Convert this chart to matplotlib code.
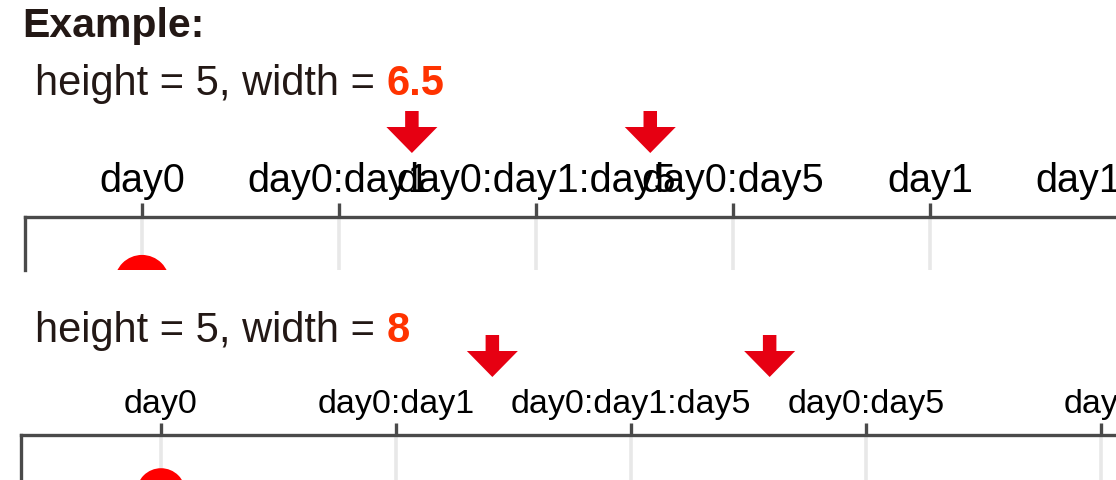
import matplotlib.pyplot as plt
from matplotlib import transforms as mtransforms

plt.rcParams["font.family"] = ["Liberation Sans", "DejaVu Sans"]

W, H = 1116, 480

categories = ["day0", "day0:day1", "day0:day1:day5", "day0:day5", "day1", "day1:day5"]
dot_categories = ["day0"]
dot_row = 1

panel_widths = ["6.5", "8"]
panel_height = "5"
arrow_x_top = [1.37, 2.58]
arrow_x_bottom = [1.41, 2.59]

TEXT_DARK = "#231815"
TEXT_HL = "#ff3300"
AXIS_COL = "#4a4a4a"
GRID_COL = "#e8e8e8"
DOT_COL = "#ff0000"
ARROW_COL = "#e60012"


def fx(px):
    return px / W


def fy(py):
    return 1 - py / H


def draw_panel(fig, left, top, bottom, step, first_tick, label_size,
               tick_len, dot_px, ylim_bottom, arrow_x, arrow_gap):
    n = len(categories)
    x_left = (left - first_tick) / step
    width_px = (n - 1 - 2 * x_left) * step
    ax = fig.add_axes([fx(left), fy(bottom), width_px / W, (bottom - top) / H])
    ax.set_xlim(x_left, n - 1 - x_left)
    ax.set_ylim(ylim_bottom, 0)

    ax.set_xticks(range(n))
    ax.set_xticklabels(categories)
    ax.xaxis.tick_top()
    ax.set_yticks([])
    ax.tick_params(axis="x", length=tick_len, width=2.4, color=AXIS_COL,
                   pad=2, labelsize=label_size, labelcolor="black")
    ax.grid(axis="x", color=GRID_COL, linewidth=2.6, zorder=0)
    ax.set_axisbelow(True)

    for side in ["right", "bottom"]:
        ax.spines[side].set_visible(False)
    for side in ["top", "left"]:
        ax.spines[side].set_color(AXIS_COL)
        ax.spines[side].set_linewidth(2.4)

    xs = [categories.index(c) for c in dot_categories]
    ax.scatter(xs, [dot_row] * len(xs), s=(dot_px * 72 / 100) ** 2,
               color=DOT_COL, edgecolor="none", zorder=3)

    # red arrows above the overlapping labels
    tip_tr = mtransforms.blended_transform_factory(ax.transData, ax.transAxes) + \
        mtransforms.ScaledTranslation(0, arrow_gap / 100, fig.dpi_scale_trans)
    for x in arrow_x:
        ax.annotate("", xy=(x, 1), xycoords=tip_tr,
                    xytext=(0, 42), textcoords="offset pixels",
                    annotation_clip=False,
                    arrowprops=dict(arrowstyle="simple,head_length=2.6,head_width=5.1,tail_width=1.35",
                                    mutation_scale=7.2, color=ARROW_COL,
                                    shrinkA=0, shrinkB=0, lw=0))
    return ax


def draw_title(fig, bg, x, baseline, value):
    t = fig.text(fx(x), fy(baseline), f"height = {panel_height}, width = ",
                 fontsize=30, color=TEXT_DARK, va="baseline", ha="left")
    bg.annotate(value, xy=(1, 0), xycoords=t, va="bottom", ha="left",
                fontsize=30, fontweight="bold", color=TEXT_HL)


fig = plt.figure(figsize=(W / 100, H / 100), dpi=100)
bg = fig.add_axes([0, 0, 1, 1])
bg.set_axis_off()

fig.text(fx(22), fy(37), "Example:", fontsize=29.5, fontweight="bold",
         color=TEXT_DARK, va="baseline", ha="left")

draw_title(fig, bg, 35, 95, panel_widths[0])
draw_panel(fig, left=25, top=217, bottom=270, step=197, first_tick=142,
           label_size=28.5, tick_len=10, dot_px=55, ylim_bottom=0.81,
           arrow_x=arrow_x_top, arrow_gap=64)

draw_title(fig, bg, 35, 342, panel_widths[1])
draw_panel(fig, left=21, top=435, bottom=480, step=235, first_tick=161,
           label_size=24.5, tick_len=8.6, dot_px=49, ylim_bottom=0.78,
           arrow_x=arrow_x_bottom, arrow_gap=58)

fig.savefig("out.png", dpi=100)
